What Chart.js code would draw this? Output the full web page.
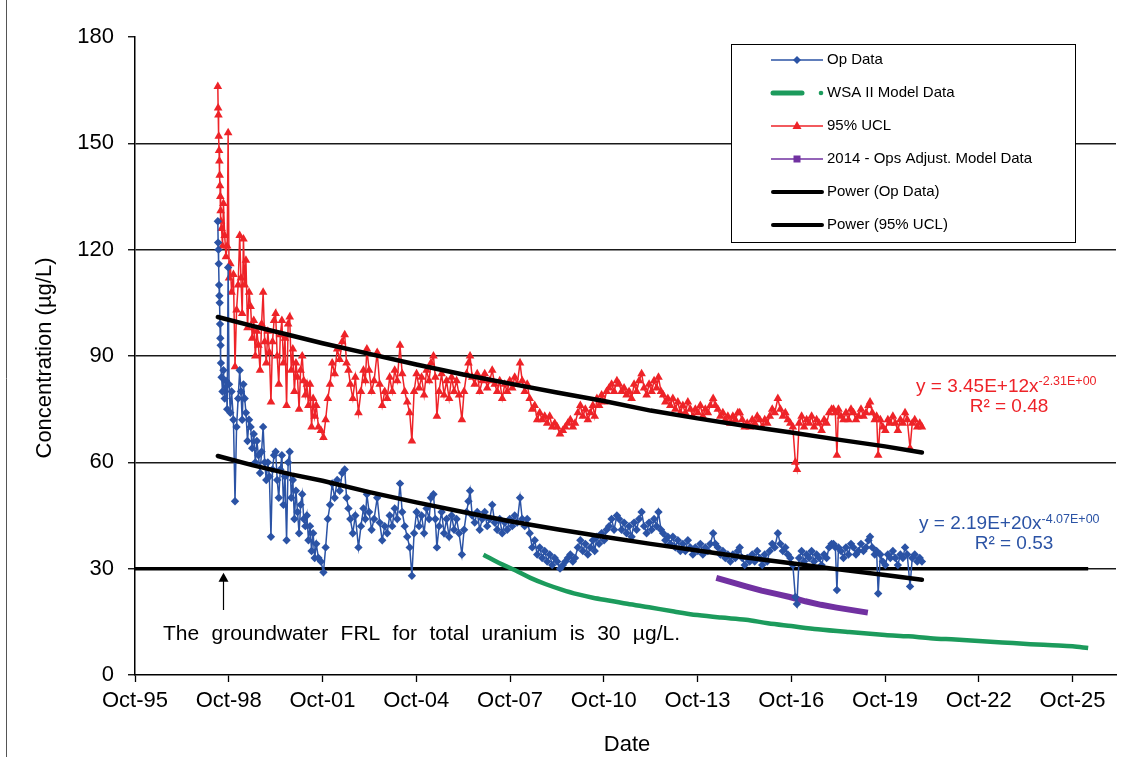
<!DOCTYPE html>
<html>
<head>
<meta charset="utf-8">
<title>Total uranium concentration</title>
<script src="https://cdn.jsdelivr.net/npm/chart.js@4.4.1/dist/chart.umd.min.js"></script>
<style>
  html, body { margin: 0; padding: 0; background: #fff; }
  #wrap { position: relative; width: 1135px; height: 757px; }
</style>
</head>
<body>
<div id="wrap"><canvas id="chart" width="1135" height="757"></canvas></div>
<script>
// ========== DATA ==========
// dates are decimal years
const sampleDates = [
  1998.40, 1998.41, 1998.42, 1998.43, 1998.44, 1998.45, 1998.46, 1998.47, 1998.48, 1998.49,
  1998.50, 1998.52, 1998.55, 1998.58, 1998.62, 1998.66, 1998.70, 1998.73, 1998.76, 1998.80,
  1998.84, 1998.90, 1998.95, 1999.00, 1999.05, 1999.10, 1999.14, 1999.18, 1999.22, 1999.26,
  1999.30, 1999.35, 1999.40, 1999.45, 1999.50, 1999.55, 1999.60, 1999.65, 1999.70, 1999.75,
  1999.80, 1999.85, 1999.90, 1999.95, 2000.00, 2000.05, 2000.10, 2000.15, 2000.20, 2000.25,
  2000.30, 2000.35, 2000.40, 2000.45, 2000.50, 2000.55, 2000.60, 2000.65, 2000.70, 2000.75,
  2000.80, 2000.85, 2000.90, 2000.95, 2001.00, 2001.05, 2001.10, 2001.15, 2001.20, 2001.25,
  2001.30, 2001.35, 2001.40, 2001.45, 2001.50, 2001.55, 2001.62, 2001.70, 2001.78, 2001.85,
  2001.92, 2001.99, 2002.06, 2002.14, 2002.22, 2002.30, 2002.38, 2002.46, 2002.52, 2002.58,
  2002.64, 2002.72, 2002.80, 2002.90, 2002.98, 2003.06, 2003.12, 2003.17, 2003.24, 2003.32,
  2003.40, 2003.50, 2003.58, 2003.66, 2003.74, 2003.82, 2003.90, 2003.98, 2004.06, 2004.14,
  2004.23, 2004.30, 2004.38, 2004.46, 2004.54, 2004.61, 2004.68, 2004.76, 2004.84, 2004.92,
  2005.00, 2005.08, 2005.16, 2005.22, 2005.30, 2005.36, 2005.41, 2005.48, 2005.56, 2005.64,
  2005.72, 2005.80, 2005.88, 2005.96, 2006.04, 2006.12, 2006.21, 2006.28, 2006.36, 2006.42,
  2006.47, 2006.54, 2006.62, 2006.70, 2006.78, 2006.86, 2006.94, 2007.02, 2007.10, 2007.18,
  2007.26, 2007.34, 2007.42, 2007.50, 2007.58, 2007.66, 2007.74, 2007.82, 2007.90, 2007.98,
  2008.07, 2008.14, 2008.22, 2008.30, 2008.38, 2008.46, 2008.54, 2008.62, 2008.70, 2008.78,
  2008.86, 2008.94, 2009.02, 2009.10, 2009.18, 2009.26, 2009.35, 2009.44, 2009.52, 2009.60,
  2009.68, 2009.76, 2009.83, 2009.92, 2010.00, 2010.08, 2010.16, 2010.24, 2010.32, 2010.40,
  2010.46, 2010.53, 2010.60, 2010.68, 2010.76, 2010.84, 2010.92, 2011.00, 2011.08, 2011.17,
  2011.24, 2011.32, 2011.40, 2011.48, 2011.56, 2011.64, 2011.72, 2011.80, 2011.88, 2011.96,
  2012.04, 2012.12, 2012.20, 2012.28, 2012.36, 2012.44, 2012.50, 2012.58, 2012.65, 2012.72,
  2012.80, 2012.88, 2012.96, 2013.04, 2013.12, 2013.20, 2013.28, 2013.36, 2013.44, 2013.52,
  2013.60, 2013.68, 2013.76, 2013.84, 2013.92, 2014.00, 2014.08, 2014.16, 2014.25, 2014.32,
  2014.40, 2014.48, 2014.56, 2014.64, 2014.72, 2014.80, 2014.88, 2014.96, 2015.04, 2015.10,
  2015.18, 2015.26, 2015.34, 2015.42, 2015.50, 2015.58, 2015.66, 2015.74, 2015.82, 2015.90,
  2015.98, 2016.06, 2016.14, 2016.22, 2016.32, 2016.40, 2016.48, 2016.56, 2016.64, 2016.72,
  2016.80, 2016.88, 2016.93, 2017.00, 2017.08, 2017.16, 2017.24, 2017.32, 2017.40, 2017.48,
  2017.56, 2017.64, 2017.72, 2017.80, 2017.88, 2017.96, 2018.04, 2018.10, 2018.16, 2018.21,
  2018.26, 2018.34, 2018.42, 2018.50, 2018.58, 2018.66, 2018.74, 2018.82, 2018.90, 2018.98,
  2019.06, 2019.14, 2019.22, 2019.27, 2019.34, 2019.42, 2019.48, 2019.53, 2019.60, 2019.68,
  2019.76, 2019.84, 2019.92, 2020.00, 2020.08, 2020.16, 2020.24, 2020.32, 2020.39, 2020.46,
  2020.55, 2020.62, 2020.70, 2020.78, 2020.86, 2020.93
];

const opValues = [
  128, 122, 120, 116, 110, 107, 105, 99, 95, 93,
  88, 84, 80, 86, 78, 83, 75, 115, 82, 74,
  80, 72, 49, 70, 78, 86, 80, 72, 82, 78,
  74, 66, 72, 70, 64, 68, 60, 66, 62, 57,
  63, 70, 60, 55, 60, 56, 39, 58, 62, 63,
  55, 50, 58, 62, 48, 56, 38, 60, 63, 50,
  55, 44, 52, 46, 40, 48, 51, 44, 42, 45,
  38, 42, 35, 40, 33, 37, 33, 32, 29, 36,
  44, 48, 54, 50, 55, 52, 57, 58, 50, 47,
  44, 40, 45, 36, 42, 47, 44, 51, 46, 41,
  44, 50, 43, 38, 42, 40, 45, 42, 47, 44,
  54, 46, 42, 39, 36, 28, 40, 46, 42, 45,
  40, 47, 44, 50, 51, 44, 36, 42, 46, 40,
  44, 39, 45, 41, 44, 40, 34, 41, 46, 49,
  52, 45, 43, 46, 41, 44, 46, 42, 44, 48,
  43, 41, 44, 40, 43, 41, 44, 42, 45, 43,
  50, 44, 42, 44, 40, 36, 38, 34, 36, 33,
  35, 32, 34, 31, 33, 32, 30, 31, 32, 33,
  34, 32, 33, 36, 38, 35, 37, 34, 36, 38,
  35, 39, 37, 40, 38, 41, 42, 44, 41, 45,
  44, 41, 43, 40, 42, 39, 43, 41, 44, 46,
  42, 40, 43, 41, 44, 42, 46, 41, 40, 38,
  39, 37, 39, 36, 38, 35, 37, 35, 38, 36,
  34, 36, 35, 37, 34, 36, 35, 37, 40, 37,
  36, 34, 35, 33, 34, 32, 34, 33, 35, 36,
  33, 31, 33, 32, 34, 32, 35, 33, 31, 34,
  32, 35, 37, 36, 40, 37, 35, 36, 34, 33,
  31, 22, 20, 33, 35, 32, 34, 33, 35, 32,
  34, 33, 31, 34, 33, 36, 37, 37, 36, 24,
  36, 35, 33, 36, 34, 37, 36, 34, 35, 37,
  35, 36, 38, 39, 36, 34, 35, 23, 34, 32,
  31, 34, 33, 35, 33, 31, 34, 33, 36, 34,
  25, 33, 34, 32, 33, 32
];

const uclValues = [
  166, 160, 158, 152, 148, 145, 141, 138, 135, 131,
  128, 126, 121, 133, 124, 118, 121, 153, 112, 116,
  108, 113, 87, 103, 110, 124, 112, 102, 123, 110,
  117, 98, 108, 104, 95, 100, 90, 97, 93, 86,
  99, 108, 94, 88, 97, 91, 77, 94, 100, 102,
  90, 82, 96, 100, 88, 95, 76, 99, 101, 86,
  92, 80, 88, 84, 75, 86, 90, 83, 79, 82,
  76, 82, 70, 78, 73, 76, 70, 69, 67, 72,
  78, 82, 88, 85, 92, 89, 94, 96, 88, 86,
  82, 78, 84, 74, 80, 86, 83, 92, 86, 80,
  83, 91, 82, 76, 80, 78, 84, 80, 86, 83,
  93, 85, 80, 77, 74, 66, 80, 85, 81, 84,
  79, 86, 83, 88, 90, 84, 73, 80, 85, 79,
  83, 78, 84, 80, 83, 79, 72, 80, 85, 88,
  90, 84, 82, 85, 80, 83, 85, 81, 83, 86,
  82, 80, 83, 78, 82, 80, 83, 81, 84, 82,
  88, 83, 80, 82, 78, 75, 76, 72, 74, 72,
  73, 71, 73, 70, 71, 70, 68, 69, 70, 71,
  72, 70, 71, 74, 76, 73, 75, 72, 74, 76,
  73, 78, 76, 79, 77, 80, 81, 82, 80, 83,
  82, 80, 81, 79, 80, 78, 82, 80, 83, 85,
  81, 79, 82, 80, 83, 81, 84, 80, 79, 77,
  78, 76, 78, 75, 77, 74, 76, 74, 77, 75,
  73, 75, 74, 76, 73, 75, 74, 76, 78, 76,
  75, 73, 74, 72, 73, 71, 73, 72, 74, 74,
  72, 70, 71, 70, 72, 71, 73, 72, 70, 72,
  71, 73, 75, 74, 78, 75, 73, 74, 72, 71,
  70, 60, 58, 71, 73, 70, 72, 71, 73, 70,
  72, 71, 69, 72, 71, 74, 75, 75, 74, 62,
  75, 73, 72, 74, 72, 75, 74, 72, 73, 75,
  73, 74, 76, 77, 74, 72, 73, 62, 72, 70,
  69, 72, 71, 73, 71, 69, 72, 71, 74, 72,
  64, 71, 72, 70, 71, 70
];

const wsaDates = [2006.9, 2007.4, 2007.9, 2008.4, 2008.9, 2009.4, 2009.9, 2010.4, 2011.0, 2011.5,
  2012.2, 2013.0, 2013.75, 2014.5, 2015.3, 2016.0, 2016.75, 2017.6, 2018.6, 2019.75,
  2020.5, 2021.2, 2022.0, 2022.75, 2023.5, 2024.4, 2025.1, 2025.75, 2026.25];
const wsaValues = [33.9, 31.6, 29.6, 27.4, 25.6, 24.1, 22.8, 21.8, 20.9, 20.1,
  19.1, 17.9, 16.9, 16.2, 15.6, 14.6, 13.8, 12.9, 12.1, 11.3,
  10.9, 10.4, 10.0, 9.6, 9.2, 8.7, 8.4, 8.1, 7.6];

const adjDates = [2014.35, 2014.8, 2015.3, 2015.8, 2016.3, 2016.7, 2017.2, 2017.7, 2018.2, 2018.7, 2019.2];
const adjValues = [27.4, 26.3, 25.0, 23.8, 22.8, 22.0, 20.8, 19.8, 19.0, 18.3, 17.6];

const trendDates = [1998.4, 1999.5, 2000.75, 2001.75, 2003.25, 2004.75, 2006.25, 2007.75, 2009.25,
  2010.75, 2012.25, 2013.75, 2015.25, 2016.75, 2018.25, 2019.75, 2020.93];
const opTrendValues = [61.8, 59.2, 56.6, 54.8, 51.6, 48.7, 46.0, 43.4, 41.1,
  39.0, 37.0, 35.1, 33.2, 31.5, 29.8, 28.2, 26.9];
const uclTrendValues = [101, 98.5, 95.8, 93.6, 90.6, 87.6, 84.8, 82.2, 79.7,
  77.3, 74.6, 72.4, 70.3, 68.4, 66.4, 64.5, 62.8];

const frlDates = [1995.75, 2026.25];
const frlValues = [30, 30];

const xTickDates = [1995.75, 1998.75, 2001.75, 2004.75, 2007.75, 2010.75, 2013.75, 2016.75, 2019.75, 2022.75, 2025.75];
const yTicks = [0, 30, 60, 90, 120, 150, 180];

// ========== COLOURS ==========
const BLUE = "#2B53A5";
const RED = "#EE2328";
const GREEN = "#1C9B5C";
const PURPLE = "#7131A1";
const FONT = '"Liberation Sans", Arial, sans-serif';

function toPoints(dates, values) {
  return dates.map((d, i) => ({ x: d, y: values[i] }));
}

// ========== OVERLAY (legend, titles, notes) ==========
function drawMarker(ctx, kind, x, y, color) {
  ctx.fillStyle = color;
  ctx.beginPath();
  if (kind === "diamond") {
    ctx.moveTo(x, y - 4); ctx.lineTo(x + 4, y); ctx.lineTo(x, y + 4); ctx.lineTo(x - 4, y);
  } else if (kind === "triangle") {
    ctx.moveTo(x, y - 5); ctx.lineTo(x + 4.5, y + 3); ctx.lineTo(x - 4.5, y + 3);
  } else {
    ctx.rect(x - 3.5, y - 3.5, 7, 7);
  }
  ctx.closePath();
  ctx.fill();
}

const legendItems = [
  { label: "Op Data", kind: "diamond", color: BLUE },
  { label: "WSA II Model Data", kind: "wsa", color: GREEN },
  { label: "95% UCL", kind: "triangle", color: RED },
  { label: "2014 - Ops Adjust. Model Data", kind: "square", color: PURPLE },
  { label: "Power (Op Data)", kind: "thick", color: "#000" },
  { label: "Power (95% UCL)", kind: "thick", color: "#000" }
];

const overlayPlugin = {
  id: "overlay",
  afterDraw(chart) {
    const ctx = chart.ctx;
    const xs = chart.scales.x;
    const ys = chart.scales.y;
    ctx.save();

    // outer frame line on the left
    ctx.strokeStyle = "#555";
    ctx.lineWidth = 1;
    ctx.beginPath();
    ctx.moveTo(6.5, 0); ctx.lineTo(6.5, 757);
    ctx.stroke();

    // axis titles
    ctx.fillStyle = "#000";
    ctx.font = "22px " + FONT;
    ctx.textAlign = "center";
    ctx.textBaseline = "middle";
    ctx.fillText("Date", 627, 745);
    ctx.save();
    ctx.translate(45, 358);
    ctx.rotate(-Math.PI / 2);
    ctx.fillText("Concentration (\u00b5g/L)", 0, 0);
    ctx.restore();

    // legend box
    const bx = 731, by = 44, bw = 344, bh = 198;
    ctx.fillStyle = "#fff";
    ctx.fillRect(bx, by, bw, bh);
    ctx.strokeStyle = "#000";
    ctx.lineWidth = 1;
    ctx.strokeRect(bx + 0.5, by + 0.5, bw, bh);
    ctx.font = "15px " + FONT;
    ctx.textAlign = "left";
    ctx.textBaseline = "middle";
    legendItems.forEach((item, i) => {
      const y = 60 + i * 33;
      if (item.kind === "wsa") {
        ctx.strokeStyle = item.color;
        ctx.lineWidth = 5;
        ctx.lineCap = "round";
        ctx.beginPath(); ctx.moveTo(773, y); ctx.lineTo(802, y); ctx.stroke();
        ctx.lineCap = "butt";
        ctx.fillStyle = item.color;
        ctx.beginPath(); ctx.arc(821, y, 2.3, 0, Math.PI * 2); ctx.fill();
      } else if (item.kind === "thick") {
        ctx.strokeStyle = item.color;
        ctx.lineWidth = 4;
        ctx.lineCap = "round";
        ctx.beginPath(); ctx.moveTo(773, y); ctx.lineTo(822, y); ctx.stroke();
        ctx.lineCap = "butt";
      } else {
        ctx.strokeStyle = item.color;
        ctx.lineWidth = 1.3;
        ctx.beginPath(); ctx.moveTo(771, y); ctx.lineTo(823, y); ctx.stroke();
        drawMarker(ctx, item.kind, 797, y, item.color);
      }
      ctx.fillStyle = "#000";
      ctx.fillText(item.label, 827, y);
    });

    // trend equations
    ctx.textBaseline = "alphabetic";
    ctx.textAlign = "left";
    ctx.fillStyle = RED;
    ctx.font = "19px " + FONT;
    ctx.fillText("y = 3.45E+12x", 916, 392);
    let w = ctx.measureText("y = 3.45E+12x").width;
    ctx.font = "12.5px " + FONT;
    ctx.fillText("-2.31E+00", 916 + w, 385);
    ctx.font = "19px " + FONT;
    ctx.textAlign = "center";
    ctx.fillText("R\u00b2 = 0.48", 1009, 412);

    ctx.fillStyle = BLUE;
    ctx.textAlign = "left";
    ctx.fillText("y = 2.19E+20x", 919, 529);
    w = ctx.measureText("y = 2.19E+20x").width;
    ctx.font = "12.5px " + FONT;
    ctx.fillText("-4.07E+00", 919 + w, 523);
    ctx.font = "19px " + FONT;
    ctx.textAlign = "center";
    ctx.fillText("R\u00b2 = 0.53", 1014, 549);

    // FRL arrow and note
    const ax = Math.round(xs.getPixelForValue(1998.55)) + 0.5;
    const tipY = ys.getPixelForValue(30) + 4;
    ctx.strokeStyle = "#000";
    ctx.fillStyle = "#000";
    ctx.lineWidth = 1.2;
    ctx.beginPath(); ctx.moveTo(ax, tipY + 6); ctx.lineTo(ax, 610); ctx.stroke();
    ctx.beginPath();
    ctx.moveTo(ax, tipY); ctx.lineTo(ax + 5, tipY + 9); ctx.lineTo(ax - 5, tipY + 9);
    ctx.closePath(); ctx.fill();

    const note = "The groundwater FRL for total uranium is 30 \u00b5g/L.";
    ctx.font = "21px " + FONT;
    ctx.textAlign = "left";
    const words = note.split(" ");
    const natural = ctx.measureText(note).width;
    const extra = (517 - natural) / (words.length - 1);
    const space = ctx.measureText(" ").width;
    let tx = 163;
    words.forEach((word) => {
      ctx.fillText(word, tx, 640);
      tx += ctx.measureText(word).width + space + extra;
    });

    ctx.restore();
  }
};

// ========== CHART ==========
new Chart(document.getElementById("chart"), {
  type: "line",
  data: {
    datasets: [
      {
        label: "Power (Op Data)",
        data: toPoints(trendDates, opTrendValues),
        borderColor: "#000", borderWidth: 4.5, pointRadius: 0, order: 0, borderCapStyle: "round"
      },
      {
        label: "Power (95% UCL)",
        data: toPoints(trendDates, uclTrendValues),
        borderColor: "#000", borderWidth: 4.5, pointRadius: 0, order: 0, borderCapStyle: "round"
      },
      {
        label: "Op Data",
        data: toPoints(sampleDates, opValues),
        borderColor: BLUE, backgroundColor: BLUE, borderWidth: 1.5,
        pointStyle: "rectRot", pointRadius: 4.2, pointBorderWidth: 0, order: 2
      },
      {
        label: "95% UCL",
        data: toPoints(sampleDates, uclValues),
        borderColor: RED, backgroundColor: RED, borderWidth: 1.5,
        pointStyle: "triangle", pointRadius: 5, pointBorderWidth: 0, order: 2
      },
      {
        label: "WSA II Model Data",
        data: toPoints(wsaDates, wsaValues),
        borderColor: GREEN, borderWidth: 4.5, pointRadius: 0, order: 3, cubicInterpolationMode: "monotone"
      },
      {
        label: "2014 - Ops Adjust. Model Data",
        data: toPoints(adjDates, adjValues),
        borderColor: PURPLE, borderWidth: 6, pointRadius: 0, order: 3
      },
      {
        label: "FRL",
        data: toPoints(frlDates, frlValues),
        borderColor: "#000", borderWidth: 3.5, pointRadius: 0, order: 4
      }
    ]
  },
  options: {
    responsive: false,
    animation: false,
    devicePixelRatio: 1,
    layout: { padding: { top: 37, right: 19, left: 0, bottom: 0 } },
    plugins: {
      legend: { display: false },
      tooltip: { enabled: false },
      title: { display: false }
    },
    scales: {
      x: {
        type: "linear",
        min: 1995.75,
        max: 2027.14,
        afterBuildTicks: (scale) => { scale.ticks = xTickDates.map((v) => ({ value: v })); },
        afterFit: (scale) => { scale.height = 82; },
        grid: { drawOnChartArea: false, drawTicks: true, tickLength: 7, tickColor: "#000", tickWidth: 1.3 },
        border: { display: true, color: "#000", width: 1.5 },
        ticks: {
          color: "#000",
          font: { family: FONT, size: 22 },
          padding: 6,
          maxRotation: 0,
          autoSkip: false,
          callback: (v) => "Oct-" + String(Math.floor(v) % 100).padStart(2, "0")
        }
      },
      y: {
        type: "linear",
        min: 0,
        max: 180,
        afterBuildTicks: (scale) => { scale.ticks = yTicks.map((v) => ({ value: v })); },
        afterFit: (scale) => { scale.width = 135; },
        grid: {
          color: (c) => (c.tick && (c.tick.value === 0 || c.tick.value === 180)) ? "rgba(0,0,0,0)" : "#1a1a1a",
          lineWidth: 1.5,
          drawTicks: true,
          tickLength: 7,
          tickColor: "#000",
          tickWidth: 1.3
        },
        border: { display: true, color: "#000", width: 1.5 },
        ticks: {
          color: "#000",
          font: { family: FONT, size: 22 },
          padding: 14
        }
      }
    }
  },
  plugins: [overlayPlugin]
});
</script>
</body>
</html>
